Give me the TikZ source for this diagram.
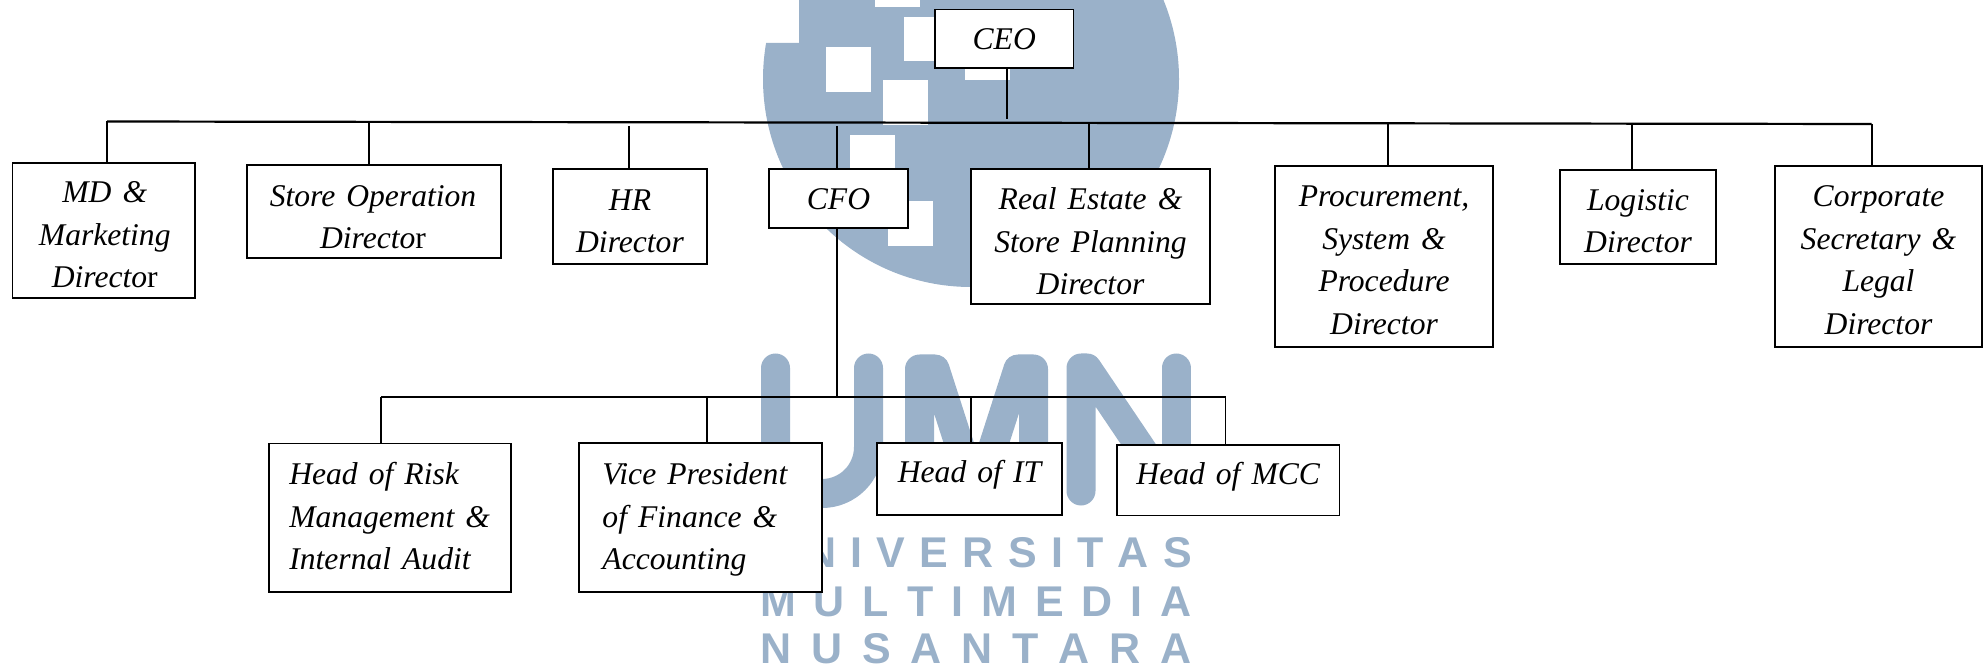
\documentclass[tikz,border=0pt]{standalone}
\usepackage{fontspec}
\setmainfont{Liberation Serif}[WordSpace=1.4]
\newfontfamily\wmfont{Liberation Sans}[BoldFont={Liberation Sans Bold}]
\definecolor{wmblue}{HTML}{9AB1C9}
\newcommand{\Tx}[4][c]{\makebox[0pt][c]{\hspace*{#2pt}\raisebox{\dimexpr#3pt-7.5pt\relax}[0pt][0pt]{\begin{tabular}[c]{@{}#1@{}}#4\end{tabular}}}}
\newcommand{\bx}[6]{\node[orgbox,minimum width={(#4-#2)*1pt},minimum height={(#5-#3)*1pt}] (#1) at ({(#2+#4)/2},{(#3+#5)/2}) {#6};}
\tikzset{
  orgbox/.style={draw=black,fill=white,line width=1.9pt,inner sep=0pt,outer sep=0pt,font=\fontsize{31.6}{42.5}\selectfont\itshape},
  link/.style={draw=black,line width=1.9pt},
  bus/.style={draw=black,line width=2.2pt},
  wmstroke/.style={draw=wmblue,line width=29pt,line cap=round,line join=round},
  wmtext/.style={text=wmblue,inner sep=0pt,font=\fontsize{43}{43}\selectfont\wmfont\bfseries}
}
\begin{document}
\begin{tikzpicture}[x=1pt,y=-1pt]
\useasboundingbox (0,0) rectangle (1987,668);
% watermark
\begin{scope}
\clip (799,0) -- (1987,0) -- (1987,668) -- (0,668) -- (0,43) -- (799,43) -- cycle;
\fill[wmblue] (971,79) circle[radius=208];
\end{scope}
\foreach \sx/\sy/\sh in {875/-38/45,904/17/44,825.5/47/45,883/80/45,965/35/45,850/135/45,888/201/45}
  \fill[white] (\sx,\sy) rectangle ++(45,\sh);
\draw[wmstroke] (775.5,368) -- (775.5,447) arc[start angle=180,end angle=0,radius=46.5] -- (868.5,368);
\draw[wmstroke,line cap=butt] (919.5,505) -- (919.5,369) -- (935,369) -- (976.5,498) -- (1018,369) -- (1033.5,369) -- (1033.5,505);
\draw[wmstroke] (1081,491) -- (1081,368) -- (1087,368) -- (1176,500);
\draw[wmstroke] (1176,500) -- (1176,368);
\node[wmtext] (wm1) at (976,552.5) {\makebox[432pt][s]{U\hfill N\hfill I\hfill V\hfill E\hfill R\hfill S\hfill I\hfill T\hfill A\hfill S}};
\node[wmtext] (wm2) at (976,602) {\makebox[432pt][s]{M\hfill U\hfill L\hfill T\hfill I\hfill M\hfill E\hfill D\hfill I\hfill A}};
\node[wmtext] (wm3) at (976,648.5) {\makebox[432pt][s]{N\hfill U\hfill S\hfill A\hfill N\hfill T\hfill A\hfill R\hfill A}};
% boxes
\bx{ceo}{935}{9.5}{1073.5}{67.7}{\Tx{0}{-1}{CEO}}
\bx{md}{12.5}{163.3}{195}{297.7}{\Tx{2}{-5}{MD \&\\Marketing\\Directo{\upshape r}}}
\bx{store}{247}{165.3}{501}{257.7}{\Tx{-2}{-6}{Store Operation\\Directo{\upshape r}}}
\bx{hr}{553}{169.3}{707}{263.7}{\Tx{0}{-5}{HR\\Director}}
\bx{cfo}{769}{169.3}{908}{228}{\Tx{0}{-1}{CFO}}
\bx{re}{971}{169.3}{1210}{303.7}{\Tx{0}{-6}{Real Estate \&\\Store Planning\\Director}}
\bx{proc}{1275}{166}{1493}{347}{\Tx{0}{-4}{Procurement,\\System \&\\Procedure\\Director}}
\bx{log}{1560}{169.8}{1716}{263.6}{\Tx{0}{-5}{Logistic\\Director}}
\bx{corp}{1775}{166}{1982}{347}{\Tx{0}{-4}{Corporate\\Secretary \&\\Legal\\Director}}
\bx{risk}{268.6}{443.5}{510.7}{591.8}{\Tx[l]{0}{0}{Head of Risk\\Management \&\\Internal Audit}}
\bx{vp}{579}{443.3}{821.7}{591.7}{\Tx[l]{-11}{0}{Vice President\\of Finance \&\\Accounting}}
\bx{it}{877}{443.3}{1062}{515}{\Tx{0}{6}{Head of IT}}
\bx{mcc}{1117}{445.3}{1339.5}{515.5}{\Tx{0}{6}{Head of MCC}}
% top bus
\coordinate (busL) at (107,121.5);
\coordinate (busR) at (1871.6,124);
\coordinate (jceo) at (1007,119);
\coordinate (jmd) at (107,121.5);
\coordinate (jstore) at (369,122);
\coordinate (jhr) at (629,126);
\coordinate (jcfo) at (837,126);
\coordinate (jre) at (1089,123);
\coordinate (jproc) at (1387.6,123);
\coordinate (jlog) at (1632,123);
\coordinate (jcorp) at (1871.6,124);
\draw[bus] (busL) -- (busR);
\draw[link] (ceo.south -| jceo) -- (jceo);
\foreach \j/\n in {jmd/md,jstore/store,jhr/hr,jcfo/cfo,jre/re,jproc/proc,jlog/log,jcorp/corp}
  \draw[link] (\j) -- (\j |- \n.north);
% lower bus
\coordinate (lowL) at (381.4,397.3);
\coordinate (lowR) at (1225.5,397.3);
\coordinate (jrisk) at (381.4,397.3);
\coordinate (jvp) at (707,397.3);
\coordinate (jit) at (971.3,397.3);
\coordinate (jmcc) at (1225.5,397.3);
\coordinate (jcfod) at (837,397.3);
\draw[link] (lowL) -- (lowR);
\draw[link] (jcfod |- cfo.south) -- (jcfod);
\foreach \j/\n in {jrisk/risk,jvp/vp,jit/it,jmcc/mcc}
  \draw[link] (\j) -- (\j |- \n.north);
\end{tikzpicture}
\end{document}
